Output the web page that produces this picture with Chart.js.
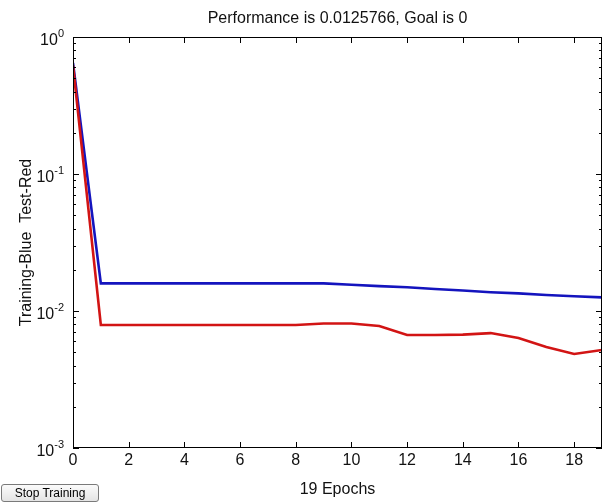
<!DOCTYPE html>
<html>
<head>
<meta charset="utf-8">
<script src="https://cdn.jsdelivr.net/npm/chart.js@4"></script>
<style>
html,body{margin:0;padding:0;background:#fff;}
#wrap{position:relative;width:605px;height:502px;}
#c{position:absolute;left:0;top:0;}
#stop{position:absolute;left:1px;top:484px;width:98px;height:18px;font:12px "Liberation Sans",Arial,sans-serif;color:#000;
 background:linear-gradient(#fbfbfb,#e4e4e4);border:1px solid #7a7a7a;border-radius:3px;padding:0;text-align:center;line-height:15px;}
</style>
</head>
<body>
<div id="wrap">
<canvas id="c" width="605" height="502"></canvas>
<button id="stop">Stop Training</button>
</div>
<script>
// ---- data ----
const epochs = [0,1,2,3,4,5,6,7,8,9,10,11,12,13,14,15,16,17,18,19];
const trainingBlue = [0.646,0.0159,0.0159,0.0159,0.0159,0.0159,0.0159,0.0159,0.0159,0.0159,0.01556,0.0152,0.0149,0.01449,0.0141,0.0137,0.01344,0.0131,0.0128,0.0125766];
const testRed = [0.62,0.0079,0.0079,0.0079,0.0079,0.0079,0.0079,0.0079,0.0079,0.00811,0.0081,0.00778,0.00668,0.00668,0.00672,0.0069,0.00635,0.00546,0.00486,0.00519];
const xTickValues = [0,2,4,6,8,10,12,14,16,18];
const yTickValues = [0.001,0.01,0.1,1];
const yTickExponents = ['-3','-2','-1','0'];
const titleText = 'Performance is 0.0125766, Goal is 0';
const xTitle = '19 Epochs';
const yTitle = 'Training-Blue  Test-Red';

const FONT = '"Liberation Sans", Arial, sans-serif';

const pts = (ys) => epochs.map((e,i)=>({x:e,y:ys[i]}));

const frame = {
  id:'frame',
  afterDatasetsDraw(chart){
    const {ctx, chartArea:a, scales:{x,y}} = chart;
    ctx.save();
    ctx.strokeStyle='#000';
    ctx.lineWidth=1;
    ctx.strokeRect(Math.round(a.left)+0.5, Math.round(a.top)+0.5, Math.round(a.right-a.left)-1, Math.round(a.bottom-a.top)-1);
    ctx.beginPath();
    xTickValues.forEach(v=>{
      const px = Math.round(x.getPixelForValue(v))+0.5;
      ctx.moveTo(px,a.bottom); ctx.lineTo(px,a.bottom-6);
      ctx.moveTo(px,a.top); ctx.lineTo(px,a.top+6);
    });
    for (let d=-3; d<0; d++){
      for (let m=1; m<=9; m++){
        const v = m*Math.pow(10,d);
        const py = Math.round(y.getPixelForValue(v))+0.5;
        const len = m===1?6:3;
        ctx.moveTo(a.left,py); ctx.lineTo(a.left+len,py);
        ctx.moveTo(a.right,py); ctx.lineTo(a.right-len,py);
      }
    }
    ctx.stroke();
    ctx.fillStyle='#111';
    ctx.font='16px '+FONT;
    ctx.textAlign='center'; ctx.textBaseline='top';
    xTickValues.forEach(v=>{
      ctx.fillText(String(v), x.getPixelForValue(v), a.bottom+5);
    });
    yTickValues.forEach((v,i)=>{
      const py = y.getPixelForValue(v);
      ctx.font='11px '+FONT;
      const ew = ctx.measureText(yTickExponents[i]).width;
      ctx.textAlign='right'; ctx.textBaseline='alphabetic';
      ctx.fillText(yTickExponents[i], a.left-9, py);
      ctx.font='16px '+FONT;
      ctx.fillText('10', a.left-9-ew, py+8);
    });
    ctx.font='16px '+FONT;
    ctx.textAlign='center'; ctx.textBaseline='alphabetic';
    ctx.fillText(titleText, (a.left+a.right)/2, 23);
    ctx.fillText(xTitle, (a.left+a.right)/2, 494);
    ctx.save();
    ctx.translate(31,(a.top+a.bottom)/2);
    ctx.rotate(-Math.PI/2);
    ctx.fillText(yTitle,0,0);
    ctx.restore();
    ctx.restore();
  }
};

new Chart(document.getElementById('c'),{
  type:'line',
  data:{datasets:[
    {label:'Test',data:pts(testRed),borderColor:'rgb(210,20,20)',borderWidth:2.6,pointRadius:0,tension:0,fill:false},
    {label:'Training',data:pts(trainingBlue),borderColor:'rgb(20,20,190)',borderWidth:2.6,pointRadius:0,tension:0,fill:false}
  ]},
  options:{
    responsive:false,animation:false,
    layout:{padding:{left:73,top:37,right:3,bottom:54}},
    plugins:{legend:{display:false},tooltip:{enabled:false},title:{display:false}},
    scales:{
      x:{type:'linear',min:0,max:19,display:false},
      y:{type:'logarithmic',min:0.001,max:1,display:false}
    }
  },
  plugins:[frame]
});
</script>
</body>
</html>
